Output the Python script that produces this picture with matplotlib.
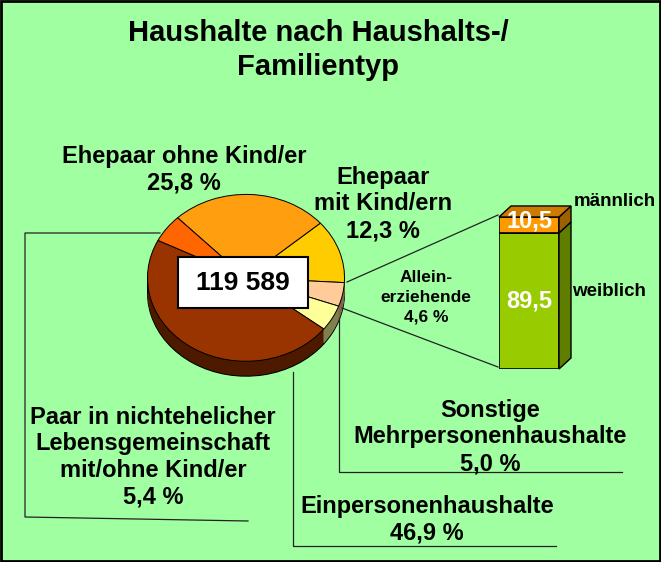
import matplotlib
matplotlib.use('Agg')
import matplotlib.pyplot as plt
from matplotlib.patches import Rectangle, Polygon
from matplotlib.colors import to_rgb

W, H = 661, 562
BG = '#A0FFA0'
FONT = ['Liberation Sans Narrow', 'Liberation Sans', 'DejaVu Sans']

# --- data ---
pie_labels = ['Ehepaar\nmit Kind/ern', 'Allein-\nerziehende', 'Sonstige\nMehrpersonenhaushalte',
              'Einpersonenhaushalte', 'Paar in nichtehelicher\nLebensgemeinschaft\nmit/ohne Kind/er',
              'Ehepaar ohne Kind/er']
pie_shares = [12.3, 4.6, 5.0, 46.9, 5.4, 25.8]
pie_colors = ['#FFCC00', '#FFCC99', '#FFFF99', '#993300', '#FF6600', '#FF9E0F']
total_label = '119 589'
bar_labels = ['weiblich', 'männlich']
bar_shares = [89.5, 10.5]
bar_colors = ['#99CC00', '#FF9900']
title = 'Haushalte nach Haushalts-/\nFamilientyp'

plt.rcParams['font.family'] = FONT
plt.rcParams['font.weight'] = 'bold'

fig = plt.figure(figsize=(W / 100, H / 100), dpi=100)
fig.patch.set_facecolor(BG)


def px_axes(x0, y0, x1, y1, z):
    return fig.add_axes([x0 / W, 1 - y1 / H, (x1 - x0) / W, (y1 - y0) / H], zorder=z)


def shade(c, f):
    r, g, b = to_rgb(c)
    return (r * f, g * f, b * f)


def fmt(v):
    return ('%.1f' % v).replace('.', ',')


# --- 3d pie ---
ax_pie = px_axes(147, 194, 345, 377, 1)
depth = 15 / 84
nlay = 15
for i in range(nlay, 0, -1):
    d = depth * i / nlay
    ax_pie.pie(pie_shares, colors=[shade(c, 0.5) for c in pie_colors], startangle=41,
               counterclock=False, center=(0, -d),
               wedgeprops=dict(linewidth=0.8 if i == nlay else 0,
                               edgecolor='black' if i == nlay else 'none'))
ax_pie.pie(pie_shares, colors=pie_colors, startangle=41, counterclock=False,
           wedgeprops=dict(linewidth=0.7, edgecolor='black'))
ax_pie.plot([-1, -1], [0, -depth], color='black', lw=0.8)
ax_pie.plot([1, 1], [0, -depth], color='black', lw=0.8)
ax_pie.set_aspect('auto')
ax_pie.set_xlim(-1.005, 1.005)
ax_pie.set_ylim(-1 - depth - 0.01, 1.005)
ax_pie.axis('off')

# --- 3d stacked bar ---
ax_bar = px_axes(499, 217, 559, 369, 2)
dx, dy = 12 / 60, 11 / 152 * 100
bottom = 0
for v, c in zip(bar_shares, bar_colors):
    ax_bar.bar(0, v, bottom=bottom, width=1, color=c, edgecolor='black', linewidth=1.2)
    ax_bar.add_patch(Polygon([(0.5, bottom), (0.5 + dx, bottom + dy), (0.5 + dx, bottom + v + dy),
                              (0.5, bottom + v)], closed=True, facecolor=shade(c, 0.62),
                             edgecolor='black', lw=1.0, clip_on=False))
    ax_bar.text(0, bottom + v / 2 + (2.5 if v < 20 else 0), fmt(v), color='white', fontsize=17,
                ha='center', va='center', fontweight='bold')
    bottom += v
ax_bar.add_patch(Polygon([(-0.5, 100), (-0.5 + dx, 100 + dy), (0.5 + dx, 100 + dy), (0.5, 100)],
                         closed=True, facecolor=shade(bar_colors[-1], 0.8), edgecolor='black',
                         lw=1.0, clip_on=False))
ax_bar.set_xlim(-0.5, 0.5)
ax_bar.set_ylim(0, 100)
ax_bar.axis('off')

# --- overlay: texts and leader lines in pixel coords ---
ax = px_axes(0, 0, W, H, 3)
ax.set_xlim(0, W)
ax.set_ylim(H, 0)
ax.axis('off')
ax.patch.set_alpha(0)

ax.text(318, 50, title, ha='center', va='center', fontsize=21, linespacing=1.23)

lab = dict(ha='center', va='center', fontsize=17, linespacing=1.2)
ax.text(184, 170, pie_labels[5] + '\n' + fmt(pie_shares[5]) + ' %', **lab)
ax.text(383, 204, pie_labels[0] + '\n' + fmt(pie_shares[0]) + ' %', **lab)
ax.text(426, 297, pie_labels[1] + '\n' + fmt(pie_shares[1]) + ' %', ha='center', va='center',
        fontsize=12.5, linespacing=1.4)
ax.text(490, 437, pie_labels[2] + '\n' + fmt(pie_shares[2]) + ' %', **lab)
ax.text(427, 520, pie_labels[3] + '\n' + fmt(pie_shares[3]) + ' %', **lab)
ax.text(153, 457, pie_labels[4] + '\n' + fmt(pie_shares[4]) + ' %', **lab)

ax.text(574, 201, bar_labels[1], ha='left', va='center', fontsize=13.5)
ax.text(572, 292, bar_labels[0], ha='left', va='center', fontsize=13.5)

# total box
ax.add_patch(Rectangle((178, 257), 130, 51, facecolor='white', edgecolor='black', lw=1.5))
ax.text(243, 283, total_label, ha='center', va='center', fontsize=19)

lk = dict(color='#222222', lw=0.9)
ax.plot([160, 25, 25, 248], [233, 233, 517, 521], **lk)
ax.plot([339, 339, 622], [318, 472, 472], **lk)
ax.plot([293, 293, 556], [372, 546, 546], **lk)
ax.plot([347, 498], [282, 215], **lk)
ax.plot([342, 498], [308, 367], **lk)

fig.patches.append(Rectangle((0.002, 0.002), 0.996, 0.996, transform=fig.transFigure,
                             fill=False, edgecolor='black', lw=2))

fig.savefig('out.png', dpi=100, facecolor=BG)
